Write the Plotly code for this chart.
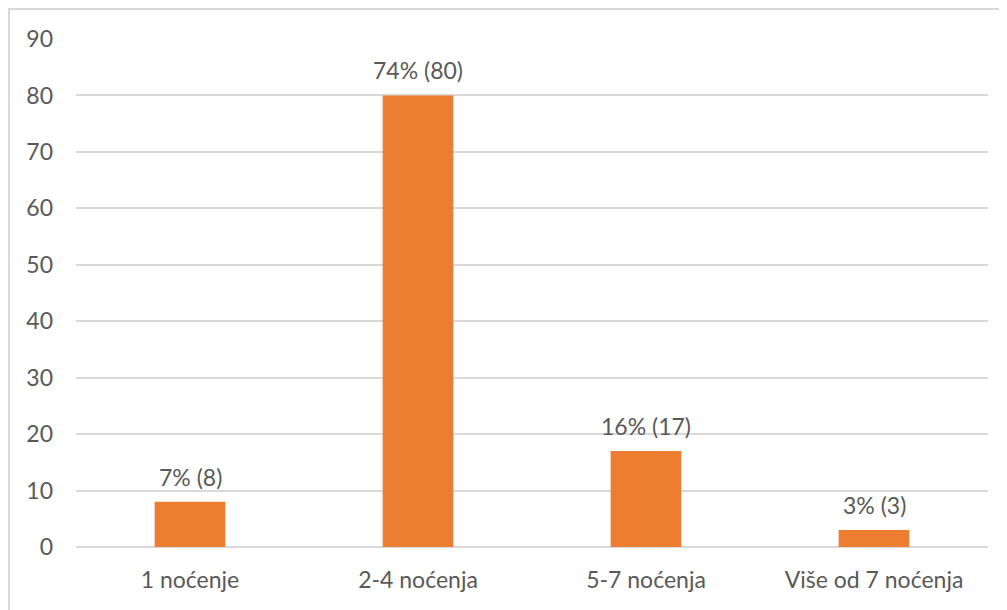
import plotly.graph_objects as go

categories = ["1 noćenje", "2-4 noćenja", "5-7 noćenja", "Više od 7 noćenja"]
counts = [8, 80, 17, 3]
percents = [7, 74, 16, 3]
y_ticks = [0, 10, 20, 30, 40, 50, 60, 70, 80, 90]

FONT = "Lato"
FS = 23
GRAY_TXT = "#595959"
GRID = "#d9d9d9"
BAR = "#ED7D31"

W, H = 1007, 610
L, R, T, B = 68, 27, 31, 71

fig = go.Figure()
fig.add_trace(go.Bar(
    x=categories, y=counts,
    marker=dict(color=BAR, line=dict(width=0)),
    width=0.31,
    hoverinfo="skip",
))

for c, n, p in zip(categories, counts, percents):
    fig.add_annotation(
        x=c, y=n, text=f"{p}% ({n})", showarrow=False,
        yanchor="bottom", yshift=9,
        font=dict(family=FONT, size=FS, color=GRAY_TXT),
    )

pw = W - L - R
ph = H - T - B
fig.add_shape(
    type="rect", xref="paper", yref="paper",
    x0=(1 - L) / pw, x1=(W - 1 - L) / pw,
    y0=-(B - 1) / ph, y1=(ph + T - 1) / ph,
    line=dict(color=GRID, width=2), fillcolor="rgba(0,0,0,0)", layer="below",
)

fig.update_layout(
    width=W, height=H,
    margin=dict(l=L, r=R, t=T, b=B),
    paper_bgcolor="white", plot_bgcolor="white",
    showlegend=False,
    bargap=0.69,
    font=dict(family=FONT, size=FS, color=GRAY_TXT),
    xaxis=dict(
        showgrid=False, showline=False, ticks="",
        ticklabelstandoff=17,
        tickfont=dict(family=FONT, size=FS, color=GRAY_TXT),
    ),
    yaxis=dict(
        range=[0, 90], tickvals=y_ticks, showgrid=True,
        gridcolor=GRID, gridwidth=1.5,
        zeroline=True, zerolinecolor=GRID, zerolinewidth=1.5,
        showline=False, ticks="", ticklabelstandoff=22,
        tickfont=dict(family=FONT, size=FS, color=GRAY_TXT),
    ),
)

fig.write_html("out.html")
